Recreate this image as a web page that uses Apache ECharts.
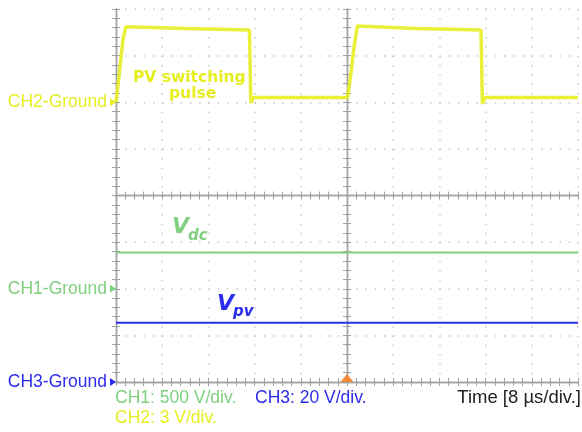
<!DOCTYPE html>
<html>
<head>
<meta charset="utf-8">
<script src="https://cdn.jsdelivr.net/npm/echarts@6/dist/echarts.min.js"></script>
<style>
  html, body { margin: 0; padding: 0; background: #fff; }
  #scope { width: 582px; height: 432px; }
</style>
</head>
<body>
<div id="scope"></div>
<script>
// time base: 8 us/div, 10 divisions, 5 ticks per division
const timeMax = 80;
const timeStep = 8;
const timeTick = 1.6;

// CH2 - PV switching pulse (volts, 3 V/div, ground at div 6)
const pulseTime  = [0, 0.35, 0.7, 1.2, 1.7, 12, 23.1, 23.35, 23.8, 40.1, 40.7, 41.2, 41.8, 52, 63.2, 63.45, 63.9, 80];
const pulseVolts = [0, 1.1, 2.3, 4.0, 4.85, 4.75, 4.65, -0.05, 0.3, 0.3, 1.9, 3.5, 4.9, 4.75, 4.65, -0.1, 0.3, 0.3];

// CH1 - Vdc (500 V/div, ground at div 2)
const dcTime  = [0, 80];
const vdcVolts = [388, 388];

// CH3 - Vpv (20 V/div, ground at div 0)
const vpvVolts = [25.4, 25.4];

const ch1Scale = 500, ch1Ground = 2;
const ch2Scale = 3,   ch2Ground = 6;
const ch3Scale = 20,  ch3Ground = 0;
const divsY = 8;
const divTick = 0.2;

const yellow = "#e6ee22";
const green = "#80d080";
const blue = "#2c2cee";
const grey = "#a2a2a2";
const dots = "#c8c8c8";
const font = "Liberation Sans";

function pairs(xs, ys) {
    return xs.map((x, i) => [x, ys[i]]);
}

// channel axis: ground sits at groundDiv divisions above the bottom
function chAxis(scale, groundDiv) {
    return {
        type: "value",
        show: false,
        min: -groundDiv * scale,
        max: (divsY - groundDiv) * scale
    };
}

// tick axes use one tick per fifth of a division
function tickAxis(base, extra) {
    return Object.assign({
        type: "value",
        axisLabel: { show: false },
        axisLine: { show: true, lineStyle: { color: grey, width: 1.4 } },
        axisTick: { show: true, inside: true, length: 4, lineStyle: { color: grey } },
        splitLine: { show: false }
    }, base, extra);
}

const xBase = { min: 0, max: timeMax, interval: timeTick };
const yBase = { min: 0, max: divsY, interval: divTick };

function groundMark(name, color, extra) {
    return {
        symbol: "triangle",
        symbolSize: [8, 6],
        symbolRotate: -90,
        symbolOffset: [-3, 0],
        silent: true,
        itemStyle: { color: color },
        label: {
            show: true,
            position: "left",
            distance: 3,
            formatter: name,
            color: color,
            fontFamily: font,
            fontSize: 17.5
        },
        data: [{ coord: [0, 0] }].concat(extra || [])
    };
}

const chart = echarts.init(document.getElementById("scope"));

const option = {
    backgroundColor: "#ffffff",
    animation: false,
    grid: { left: 116, right: 4, top: 9, bottom: 50 },
    xAxis: [
        {
            type: "value", min: 0, max: timeMax, interval: timeStep,
            axisLabel: { show: false }, axisLine: { show: false }, axisTick: { show: false },
            splitLine: { show: true, lineStyle: { color: dots, width: 1.5, type: [1.5, 7.825] } }
        },
        tickAxis(xBase, { position: "bottom" }),
        tickAxis(xBase, { position: "top" }),
        tickAxis(xBase, { position: "bottom", offset: -186.5 }),
        tickAxis(xBase, { position: "bottom", offset: -186.5,
            axisTick: { show: true, inside: false, length: 4, lineStyle: { color: grey } } })
    ],
    yAxis: [
        {
            type: "value", min: 0, max: divsY, interval: 1,
            axisLabel: { show: false }, axisLine: { show: false }, axisTick: { show: false },
            splitLine: { show: true, lineStyle: { color: dots, width: 1.5, type: [1.5, 7.74] } }
        },
        tickAxis(yBase, { position: "left" }),
        tickAxis(yBase, { position: "right" }),
        tickAxis(yBase, { position: "left", offset: -231 }),
        tickAxis(yBase, { position: "left", offset: -231,
            axisTick: { show: true, inside: false, length: 4, lineStyle: { color: grey } } }),
        chAxis(ch1Scale, ch1Ground),
        chAxis(ch2Scale, ch2Ground),
        chAxis(ch3Scale, ch3Ground)
    ],
    series: [
        {
            name: "Vdc",
            type: "line",
            xAxisIndex: 0,
            yAxisIndex: 5,
            showSymbol: false,
            data: pairs(dcTime, vdcVolts),
            lineStyle: { color: green, width: 2 },
            markPoint: groundMark("CH1-Ground", green)
        },
        {
            name: "Vpv",
            type: "line",
            xAxisIndex: 0,
            yAxisIndex: 7,
            showSymbol: false,
            data: pairs(dcTime, vpvVolts),
            lineStyle: { color: blue, width: 2 },
            markPoint: groundMark("CH3-Ground", blue, [{
                coord: [timeMax / 2, 0],
                symbol: "triangle",
                symbolSize: [13, 8],
                symbolRotate: 0,
                symbolOffset: [0, -4],
                itemStyle: { color: "#f28a3a" },
                label: { show: false }
            }])
        },
        {
            name: "PV switching pulse",
            type: "line",
            xAxisIndex: 0,
            yAxisIndex: 6,
            showSymbol: false,
            data: pairs(pulseTime, pulseVolts),
            lineStyle: { color: yellow, width: 3.5, opacity: 0.9 },
            markPoint: groundMark("CH2-Ground", yellow)
        }
    ],
    graphic: [
        { type: "text", left: 133, top: 70, z: 10, style: { text: "PV switching", fill: yellow, font: "bold 15.5px 'DejaVu Sans'" } },
        { type: "text", left: 169, top: 86, z: 10, style: { text: "pulse", fill: yellow, font: "bold 15.5px 'DejaVu Sans'" } },

        { type: "text", left: 172, top: 216, z: 10, style: { text: "V", fill: green, font: "italic bold 22px 'DejaVu Sans'" } },
        { type: "text", left: 188, top: 229, z: 10, style: { text: "dc", fill: green, font: "italic bold 15px 'DejaVu Sans'" } },

        { type: "text", left: 217, top: 293, z: 10, style: { text: "V", fill: blue, font: "italic bold 22px 'DejaVu Sans'" } },
        { type: "text", left: 233, top: 305, z: 10, style: { text: "pv", fill: blue, font: "italic bold 15px 'DejaVu Sans'" } },

        { type: "text", left: 115, top: 389, style: { text: "CH1: 500 V/div.", fill: green, font: "17.5px '" + font + "'" } },
        { type: "text", left: 115, top: 409, style: { text: "CH2: 3 V/div.", fill: yellow, font: "17.5px '" + font + "'" } },
        { type: "text", left: 255, top: 389, style: { text: "CH3: 20 V/div.", fill: blue, font: "17.5px '" + font + "'" } },
        { type: "text", right: 1, top: 388, style: { text: "Time [8 \u00b5s/div.]", fill: "#222222", font: "18.5px '" + font + "'" } }
    ]
};

chart.setOption(option);
window.addEventListener("resize", chart.resize);
</script>
</body>
</html>
